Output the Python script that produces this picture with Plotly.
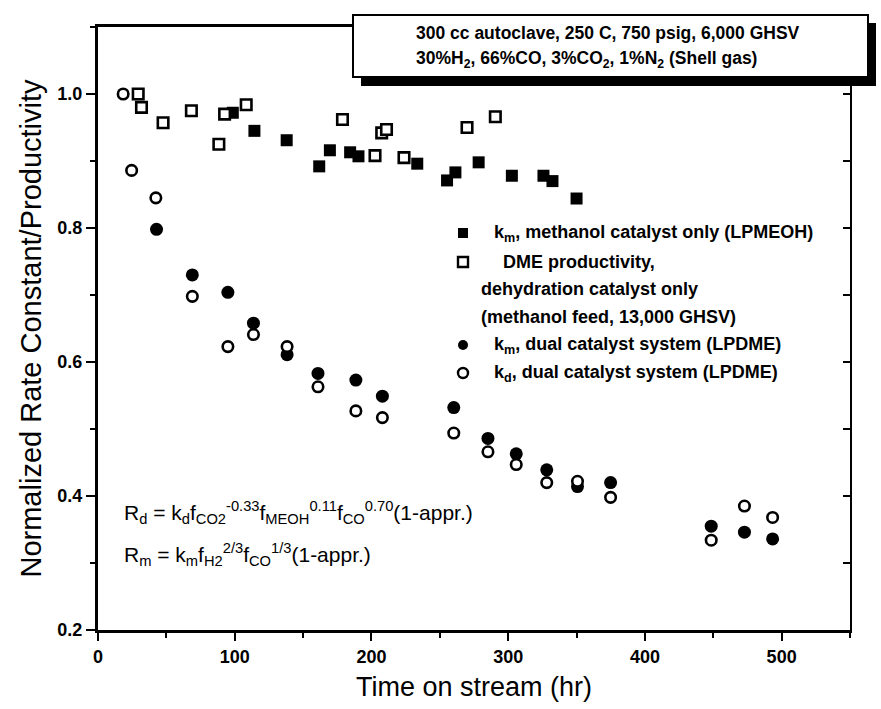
import plotly.graph_objects as go

# Methanol rate constant, methanol catalyst only (LPMEOH)
km_meoh_t = [98.6, 114.4, 138.0, 161.8, 169.6, 184.4, 190.5, 233.5, 255.3, 261.4,
             278.4, 302.7, 325.8, 332.4, 350.0]
km_meoh_v = [0.972, 0.945, 0.931, 0.892, 0.916, 0.913, 0.907, 0.896, 0.871, 0.883,
             0.898, 0.878, 0.878, 0.870, 0.844]

# DME productivity, dehydration catalyst only
dme_t = [29.4, 31.8, 47.6, 68.3, 88.4, 92.6, 108.4, 178.8, 202.6, 207.5, 211.0,
         223.8, 269.9, 290.6]
dme_v = [1.000, 0.980, 0.957, 0.975, 0.925, 0.970, 0.984, 0.962, 0.908, 0.942, 0.947,
         0.905, 0.950, 0.966]

# Dual catalyst system (LPDME): methanol rate constant k_m
km_dual_t = [42.8, 69.0, 95.0, 113.7, 138.3, 160.9, 188.6, 208.0, 260.2, 285.2,
             305.9, 328.2, 350.7, 374.9, 448.5, 472.8, 493.4]
km_dual_v = [0.798, 0.730, 0.704, 0.658, 0.611, 0.583, 0.573, 0.549, 0.532, 0.486,
             0.463, 0.439, 0.414, 0.420, 0.355, 0.346, 0.336]

# Dual catalyst system (LPDME): dehydration rate constant k_d
kd_dual_t = [18.4, 24.6, 42.3, 69.0, 95.0, 113.7, 138.3, 160.9, 188.6, 208.0,
             260.2, 285.2, 305.9, 328.2, 350.7, 374.9, 448.5, 472.8, 493.4]
kd_dual_v = [1.000, 0.886, 0.845, 0.698, 0.623, 0.641, 0.623, 0.563, 0.527, 0.517,
             0.494, 0.466, 0.447, 0.420, 0.422, 0.398, 0.334, 0.385, 0.368]

legend_rows = [
    ("sq_fill", "k<sub>m</sub>, methanol catalyst only (LPMEOH)"),
    ("sq_open", "DME productivity,"),
    (None, "dehydration catalyst only"),
    (None, "(methanol feed, 13,000 GHSV)"),
    ("ci_fill", "k<sub>m</sub>, dual catalyst system (LPDME)"),
    ("ci_open", "k<sub>d</sub>, dual catalyst system (LPDME)"),
]

box_lines = [
    "300 cc autoclave, 250 C, 750 psig, 6,000 GHSV",
    "30%H<sub>2</sub>, 66%CO, 3%CO<sub>2</sub>, 1%N<sub>2</sub> (Shell gas)",
]

eq_lines = [
    "R<sub>d</sub> = k<sub>d</sub>f<sub>CO2</sub><sup>-0.33</sup>f<sub>MEOH</sub><sup>0.11</sup>f<sub>CO</sub><sup>0.70</sup>(1-appr.)",
    "R<sub>m</sub> = k<sub>m</sub>f<sub>H2</sub><sup>2/3</sup>f<sub>CO</sub><sup>1/3</sup>(1-appr.)",
]

W, H = 881, 709
ML, MR, MT, MB = 98, 31, 27, 79
PW, PH = W - ML - MR, H - MT - MB


def px(x):
    return (x - ML) / PW


def py(y):
    return (H - MB - y) / PH


FONT = "Arial, Liberation Sans, sans-serif"

fig = go.Figure()

fig.add_trace(go.Scatter(
    x=km_meoh_t, y=km_meoh_v, mode="markers",
    marker=dict(symbol="square", size=12, color="black", line=dict(width=0)),
))
fig.add_trace(go.Scatter(
    x=km_dual_t, y=km_dual_v, mode="markers",
    marker=dict(symbol="circle", size=13, color="black", line=dict(width=0)),
))
fig.add_trace(go.Scatter(
    x=dme_t, y=dme_v, mode="markers",
    marker=dict(symbol="square", size=10.5, color="white", line=dict(width=2.6, color="black")),
))
fig.add_trace(go.Scatter(
    x=kd_dual_t, y=kd_dual_v, mode="markers",
    marker=dict(symbol="circle", size=10.5, color="white", line=dict(width=2.6, color="black")),
))
# right-hand mirror axis with inward ticks
fig.add_trace(go.Scatter(x=[None], y=[None], yaxis="y2", showlegend=False))

shapes = []
annotations = []

# condition box with drop shadow
bx0, bx1, by0, by1 = 353, 868, 15, 77
shapes.append(dict(type="rect", xref="paper", yref="paper",
                   x0=px(bx0 + 8), x1=px(bx1 + 8), y0=py(by1 + 9), y1=py(by0 + 8),
                   fillcolor="black", line=dict(width=0), layer="above"))
shapes.append(dict(type="rect", xref="paper", yref="paper",
                   x0=px(bx0), x1=px(bx1), y0=py(by1), y1=py(by0),
                   fillcolor="white", line=dict(width=2, color="black"), layer="above"))
for i, line in enumerate(box_lines):
    annotations.append(dict(xref="paper", yref="paper", x=px(414), y=py(33 + 27 * i),
                            xanchor="left", yanchor="middle", showarrow=False, text=line,
                            font=dict(family=FONT, size=17.5, color="black", weight="bold")))

# legend
leg_y = [233, 262, 289, 317, 345, 373]
leg_tx = [492, 501, 479, 479, 492, 492]
for (sym, label), yy, tx in zip(legend_rows, leg_y, leg_tx):
    annotations.append(dict(xref="paper", yref="paper", x=px(tx), y=py(yy),
                            xanchor="left", yanchor="middle", showarrow=False, text=label,
                            font=dict(family=FONT, size=18, color="black", weight="bold")))
    if sym is None:
        continue
    cx, r = 463, 5
    kind = "rect" if sym.startswith("sq") else "circle"
    filled = sym.endswith("fill")
    shapes.append(dict(type=kind, xref="paper", yref="paper",
                       x0=px(cx - r), x1=px(cx + r), y0=py(yy + r), y1=py(yy - r),
                       fillcolor="black" if filled else "white",
                       line=dict(width=0 if filled else 2.4, color="black")))

# rate expressions
for i, line in enumerate(eq_lines):
    annotations.append(dict(xref="paper", yref="paper", x=px(122), y=py(512 + 42 * i),
                            xanchor="left", yanchor="middle", showarrow=False, text=line,
                            font=dict(family=FONT, size=21, color="black")))

axis_common = dict(showgrid=False, zeroline=False, linecolor="black", tickcolor="black",
                   ticks="outside", tickfont=dict(family=FONT, size=18, color="black", weight="bold"))

fig.update_layout(
    width=W, height=H, margin=dict(l=ML, r=MR, t=MT, b=MB),
    paper_bgcolor="white", plot_bgcolor="white", showlegend=False,
    shapes=shapes, annotations=annotations,
    xaxis=dict(range=[0, 550], dtick=100, tick0=0, linewidth=3, ticklen=8, tickwidth=2,
               minor=dict(dtick=50, ticks="outside", ticklen=5, tickwidth=2, tickcolor="black"),
               title=dict(text="Time on stream (hr)", standoff=12,
                          font=dict(family=FONT, size=27, color="black")),
               mirror=True, **axis_common),
    yaxis=dict(range=[0.2, 1.1], dtick=0.2, tick0=0.2, tickformat=".1f", linewidth=3,
               ticklen=9, tickwidth=2,
               minor=dict(dtick=0.1, ticks="outside", ticklen=5, tickwidth=2, tickcolor="black"),
               title=dict(text="Normalized Rate Constant/Productivity", standoff=8,
                          font=dict(family=FONT, size=29, color="black")),
               **axis_common),
    yaxis2=dict(range=[0.2, 1.1], overlaying="y", side="right", showticklabels=False,
                showgrid=False, zeroline=False, showline=True, linecolor="black", linewidth=2,
                ticks="inside", dtick=0.1, tick0=0.2, ticklen=7, tickwidth=2, tickcolor="black"),
)

fig.write_html("out.html")
